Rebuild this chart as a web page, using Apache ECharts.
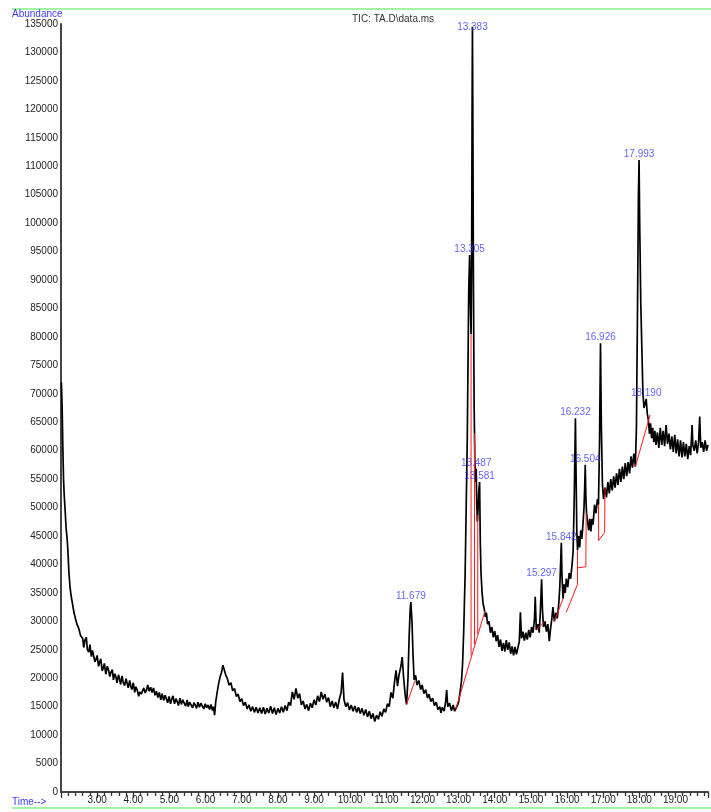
<!DOCTYPE html>
<html>
<head>
<meta charset="utf-8">
<script src="https://cdn.jsdelivr.net/npm/echarts@6/dist/echarts.min.js"></script>
<style>html,body{margin:0;padding:0;background:#fff}#c{width:711px;height:812px}</style>
</head>
<body>
<div id="c"></div>
<script>
// Chromatogram (TIC): [time (min), abundance]
const ticCurve = [
[2.01,72000],[2.03,68000],[2.05,61000],[2.07,55000],[2.09,52000],[2.11,50000],[2.14,46500],[2.17,44500],[2.19,42500],[2.22,38500],[2.25,36000],[2.28,34500],[2.32,33000],[2.36,31500],[2.40,30500],[2.44,29500],[2.49,28800],[2.54,27500],[2.60,27000],
[2.63,25400],[2.66,26600],[2.70,27200],[2.73,25000],[2.77,24600],[2.80,25900],[2.84,23800],[2.87,24900],[2.91,25200],[2.94,22900],[2.97,23300],[3.00,24000],[3.04,22100],[3.07,22800],[3.10,23400],[3.14,21300],[3.17,21800],[3.20,22600],[3.24,20700],[3.28,22100],[3.31,21600],[3.35,20300],[3.38,21000],[3.42,21500],[3.45,19700],[3.49,20800],[3.52,20200],[3.55,19200],[3.59,20600],[3.62,19900],[3.65,18900],[3.69,20400],[3.72,19300],[3.76,18700],[3.80,19900],[3.83,19100],[3.86,18300],[3.90,19600],[3.93,18600],[3.96,18000],[4.00,19200],[4.04,17500],[4.07,18500],[4.11,17900],[4.15,16800],[4.18,17600],[4.22,17200],[4.25,17000],[4.29,18300],[4.33,17400],[4.37,18000],[4.40,18800],[4.44,17700],[4.48,18400],[4.52,17500],[4.56,18300],[4.60,17000],[4.64,17700],[4.68,16600],[4.72,17500],[4.76,16200],[4.80,17300],[4.84,16100],[4.88,17000],[4.92,16300],[4.95,15700],[4.99,16800],[5.03,15500],[5.07,16500],[5.10,16900],[5.14,15500],[5.18,16400],[5.22,15800],[5.25,15200],[5.29,16500],[5.33,15400],[5.37,16200],[5.41,15600],[5.45,15100],[5.49,16200],[5.52,15000],[5.56,15800],[5.60,16000],[5.64,14800],[5.68,15700],[5.72,15200],[5.75,14700],[5.79,15800],[5.83,14900],[5.87,15600],[5.91,15900],[5.95,14600],[5.99,15500],[6.03,14800],[6.07,15300],[6.11,14500],[6.15,15400],[6.19,14300],[6.22,15000],[6.25,13500],[6.28,15800],[6.32,17500],[6.36,19000],[6.40,20200],[6.44,21000],[6.48,22300],[6.52,21400],[6.56,20500],[6.60,20000],[6.65,18800],[6.70,19200],[6.75,17800],[6.80,18200],[6.85,16800],[6.90,17200],[6.95,15900],[7.00,16400],[7.05,15200],[7.10,15800],[7.15,14600],[7.20,15300],[7.25,14200],[7.30,15000],[7.35,14000],[7.40,14900],[7.45,13900],[7.50,14800],
[7.55,13800],[7.60,14900],[7.65,13700],[7.70,14700],[7.75,13900],[7.80,15100],[7.85,13800],[7.90,14800],[7.95,13600],[8.00,14700],[8.05,13900],[8.10,15000],[8.15,14000],[8.20,15200],[8.25,14300],[8.30,15800],[8.35,15200],[8.40,17600],[8.45,16300],[8.50,18200],[8.55,16500],[8.60,17300],[8.65,15300],[8.70,16000],[8.75,14600],[8.80,15400],[8.85,14300],[8.90,15600],[8.95,14800],[9.00,16200],[9.05,15300],[9.10,16900],[9.15,15900],[9.20,17600],[9.25,16300],[9.30,17200],[9.35,15800],[9.40,16600],[9.45,15000],[9.50,16000],[9.55,14800],[9.60,15800],[9.65,14600],[9.70,16300],[9.75,17500],[9.79,21000],[9.83,16200],[9.88,15000],[9.93,15700],[9.98,14400],[10.03,15300],[10.08,14200],[10.13,15100],[10.18,14000],[10.23,14900],[10.28,13800],[10.33,14700],[10.38,13500],[10.43,14500],[10.48,13200],[10.53,14200],[10.58,12900],[10.63,13800],[10.68,12400],[10.73,13500],[10.78,12800],[10.83,14100],[10.88,13300],[10.93,14600],[10.98,14000],[11.03,15500],[11.08,15000],[11.13,17500],[11.18,16500],[11.23,19500],[11.27,21400],[11.31,18600],[11.35,20500],[11.40,22000],[11.44,23700],[11.48,20000],[11.52,17200],[11.56,15400],[11.60,20000],[11.63,27000],[11.66,32000],[11.679,33400],[11.71,30000],[11.74,24000],[11.77,19700],[11.81,20500],[11.85,18800],[11.90,19600],[11.95,18000],[11.99,18800],[12.04,17300],[12.09,18000],[12.14,16500],[12.18,17200],[12.23,15900],[12.28,16500],[12.33,15200],[12.38,15800],[12.43,14500],[12.48,15000],[12.51,13900],[12.55,14900],[12.60,14200],[12.64,15800],[12.67,17900],[12.70,15000],[12.75,15600],[12.80,14300],[12.85,15300],[12.89,14200],[12.92,14500],[12.96,15100],[13.00,15800],[13.04,17500],[13.08,19500],[13.11,22500],[13.14,28000],[13.18,38000],[13.21,50000],[13.24,62000],[13.26,75000],[13.28,88000],[13.305,94400],[13.325,86000],[13.345,80500],[13.36,92000],[13.372,118000],[13.383,134500],[13.395,118000],[13.41,90000],[13.43,68000],[13.45,58000],[13.47,54500],[13.487,56800],[13.50,51000],[13.52,47500],[13.54,50000],[13.56,53000],[13.581,54500],[13.60,44000],[13.62,38500],[13.65,35000],[13.68,33000],[13.71,32200],[13.74,30800],[13.77,31500],[13.80,29500],[13.84,30000],[13.88,28000],[13.92,29000],[13.96,27200],[14.00,28300],[14.04,26500],[14.08,27600],[14.12,25500],[14.16,26800],[14.20,24800],[14.24,26200],[14.28,24700],[14.32,26700],[14.36,25000],[14.40,26300],[14.44,24300],[14.48,25600],[14.52,24000],[14.56,25500],[14.60,24200],[14.64,25300],[14.68,26500],[14.71,31600],[14.74,27000],[14.78,28200],[14.82,26600],[14.86,28000],[14.90,26800],[14.94,28500],[14.98,27200],[15.02,29000],[15.06,28000],[15.10,30500],[15.12,34300],[15.15,28500],[15.19,29500],[15.23,28000],[15.26,31500],[15.297,37400],[15.32,32000],[15.35,29000],[15.39,30000],[15.43,28200],[15.47,29500],[15.51,26500],[15.54,28500],[15.58,30500],[15.61,32500],[15.65,30000],[15.69,31500],[15.73,30500],[15.77,33000],[15.80,36000],[15.842,43800],[15.86,38000],[15.89,34000],[15.92,36500],[15.95,35000],[15.98,37500],[16.02,36000],[16.06,38500],[16.10,37500],[16.14,40000],[16.17,42500],[16.20,52000],[16.232,65700],[16.25,56000],[16.27,46000],[16.29,42500],[16.32,45000],[16.35,43000],[16.38,46000],[16.41,44500],[16.44,47000],[16.47,50000],[16.49,54000],[16.504,57500],[16.52,52000],[16.54,49000],[16.57,47500],[16.60,46000],[16.63,48000],[16.66,45800],[16.69,48000],[16.72,47000],[16.76,50500],[16.80,49000],[16.84,51500],[16.87,50500],[16.90,62000],[16.926,78900],[16.95,64000],[16.98,54000],[17.01,51500],[17.05,53500],[17.09,51800],[17.13,54500],[17.17,52500],[17.21,55000],[17.25,53000],[17.29,55500],[17.33,53500],[17.37,56000],[17.41,54000],[17.45,56800],[17.49,54500],[17.53,57200],[17.57,55000],[17.61,57800],[17.65,55500],[17.69,58000],[17.73,56000],[17.77,59000],[17.81,57000],[17.85,59500],[17.89,57200],[17.92,64000],[17.95,85000],[17.975,105000],[17.993,111100],[18.01,100000],[18.04,86000],[18.07,78000],[18.10,70000],[18.13,67500],[18.16,68300],[18.19,69100],[18.22,66500],[18.25,65400],[18.28,63000],[18.31,64800],[18.34,62200],[18.37,64000],[18.40,61500],[18.43,63500],[18.46,61000],[18.50,63200],[18.54,60500],[18.58,64000],[18.62,61000],[18.66,63500],[18.70,60800],[18.74,64500],[18.78,61200],[18.82,63000],[18.86,60200],[18.90,62500],[18.94,59800],[18.98,62800],[19.02,59500],[19.06,62000],[19.10,59000],[19.14,61800],[19.18,58800],[19.22,61500],[19.26,59000],[19.30,61200],[19.34,58500],[19.38,60800],[19.42,59200],[19.46,64500],[19.48,61000],[19.52,60000],[19.56,61800],[19.60,59500],[19.64,61500],[19.67,66000],[19.70,60500],[19.74,61500],[19.78,59800],[19.82,61800],[19.86,60000],[19.90,61000]
];

// Integration baselines / drop lines (red), each a polyline: [time, abundance]
const baselineSegments = [
  [[11.56,15400],[11.79,19500]],
  [[12.92,14500],[13.73,31800]],
  [[13.345,24000],[13.345,80500]],
  [[13.44,26000],[13.44,63000]],
  [[13.53,27800],[13.53,48700]],
  [[15.15,28500],[15.39,30000]],
  [[15.65,30000],[15.89,34000]],
  [[15.98,31600],[16.29,36500],[16.29,42500]],
  [[16.29,39400],[16.52,39600],[16.53,49000]],
  [[16.87,50500],[16.875,44200],[17.04,45600],[17.05,53500]],
  [[17.89,57200],[18.30,66300]]
];

// Labelled peaks: retention time and apex abundance
const peakTimes = [11.679, 13.305, 13.383, 13.487, 13.581, 15.297, 15.842, 16.232, 16.504, 16.926, 17.993, 18.190];
const peakApex  = [33400, 94400, 134500, 56800, 54500, 37400, 43800, 65700, 57500, 78900, 111100, 69100];

const titleText = 'TIC: TA.D\\data.ms';
const yLabel = 'Abundance';
const xLabel = 'Time-->';

const chart = echarts.init(document.getElementById('c'), null, {renderer: 'canvas'});
const blue = '#3a3aff';
const txtFont = 'Liberation Sans, Arial, sans-serif';

const series = [{
  type: 'line',
  data: ticCurve,
  showSymbol: false,
  symbol: 'none',
  lineStyle: {color: '#000', width: 1.7},
  z: 3,
  silent: true
}];
baselineSegments.forEach(seg => {
  series.push({
    type: 'line', data: seg, symbol: 'none', showSymbol: false,
    lineStyle: {color: '#ff1a1a', width: 1}, z: 4, silent: true
  });
});
series.push({
  type: 'scatter',
  symbolSize: 0,
  z: 6,
  data: peakTimes.map((t, i) => ({
    value: [t, peakApex[i]],
    label: peakApex[i] > 130000 ? {position: 'inside'} : {position: 'top', distance: 1}
  })),
  label: {
    show: true,
    color: blue,
    fontSize: 10,
    fontFamily: txtFont,
    formatter: p => p.value[0].toFixed(3)
  }
});

chart.setOption({
  animation: false,
  backgroundColor: '#fff',
  title: {
    text: titleText, left: 347, top: 9,
    textStyle: {fontSize: 10, fontWeight: 'normal', color: '#333', fontFamily: txtFont}
  },
  grid: {left: 61, right: 0, top: 24, bottom: 20, containLabel: false},
  xAxis: {
    type: 'value', min: 2, max: 19.9, interval: 1,
    axisLine: {lineStyle: {color: '#444', width: 2}},
    axisTick: {show: true, length: 6, lineStyle: {color: '#333', width: 1.3}},
    minorTick: {show: true, splitNumber: 5, length: 4, lineStyle: {color: '#333', width: 1.3}},
    splitLine: {show: false},
    axisLabel: {
      fontSize: 10, color: '#222', margin: 3, fontFamily: txtFont,
      formatter: v => (v >= 3 && Math.abs(v - Math.round(v)) < 1e-6) ? v.toFixed(2) : ''
    }
  },
  yAxis: {
    type: 'value', min: 0, max: 135000, interval: 5000,
    axisLine: {show: true, lineStyle: {color: '#444', width: 2}},
    axisTick: {show: false},
    splitLine: {show: false},
    axisLabel: {fontSize: 10, color: '#222', margin: 3, fontFamily: txtFont, formatter: v => String(v)}
  },
  graphic: [
    {type: 'line', shape: {x1: 12, y1: 9, x2: 711, y2: 9}, style: {stroke: '#86ee86', lineWidth: 1.5}, silent: true},
    {type: 'line', shape: {x1: 12, y1: 808, x2: 711, y2: 808}, style: {stroke: '#86ee86', lineWidth: 1.5}, silent: true},
    {type: 'text', left: 12, top: 9, style: {text: yLabel, fill: blue, fontSize: 10, fontFamily: txtFont}, silent: true},
    {type: 'text', left: 12, top: 797, style: {text: xLabel, fill: blue, fontSize: 10, fontFamily: txtFont}, silent: true}
  ],
  series: series
});
</script>
</body>
</html>
